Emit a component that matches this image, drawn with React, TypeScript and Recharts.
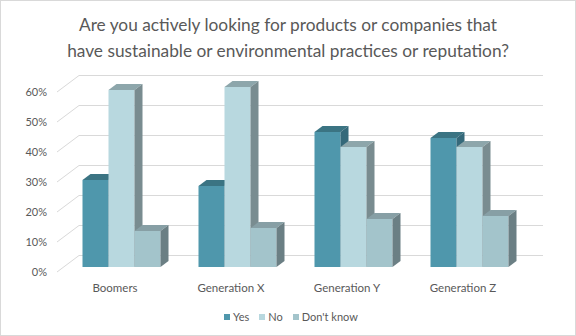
import React from 'react';
import { BarChart, Bar, XAxis, YAxis, CartesianGrid } from 'recharts';

const categories = ['Boomers', 'Generation X', 'Generation Y', 'Generation Z'];
const yesValues = [29, 27, 45, 43];
const noValues = [59, 60, 40, 40];
const dontKnowValues = [12, 13, 16, 17];
const yTicks = [0, 10, 20, 30, 40, 50, 60];
const seriesNames = ['Yes', 'No', "Don't know"];

const data = categories.map((c, i) => ({
  name: c,
  yes: yesValues[i],
  no: noValues[i],
  dk: dontKnowValues[i],
}));

const FONT = 'Lato, "Open Sans", sans-serif';
const TEXT = '#595959';
const DX = 8;
const DY = -6;
// offsets between the bar plane and the front / back planes
const FRONT_DX = -6.5;
const FRONT_DY = 5;
const BACK_DX = 15.5;
const BACK_DY = -11.5;

const colors = {
  yes: { front: '#4F97AC', top: '#3B7483', side: '#35697A' },
  no: { front: '#B8D8DF', top: '#8DA6AB', side: '#798C90' },
  dk: { front: '#A3C4CB', top: '#879FA5', side: '#6B7F84' },
};

const make3D = (c: { front: string; top: string; side: string }) => (props: any) => {
  const { x, y, width, height } = props;
  if (height == null || width == null) return <g />;
  return (
    <g>
      <rect x={x} y={y} width={width} height={height} fill={c.front} />
      <polygon
        points={`${x},${y} ${x + DX},${y + DY} ${x + width + DX},${y + DY} ${x + width},${y}`}
        fill={c.top}
      />
      <polygon
        points={`${x + width},${y} ${x + width + DX},${y + DY} ${x + width + DX},${y + height + DY} ${x + width},${y + height}`}
        fill={c.side}
      />
    </g>
  );
};

const gridLine = (props: any) => {
  const { x1, x2, y1, key } = props;
  return (
    <g key={key}>
      <line
        x1={x1 + FRONT_DX}
        y1={y1 + FRONT_DY}
        x2={x1 + BACK_DX}
        y2={y1 + BACK_DY}
        stroke="#D9D9D9"
        strokeWidth={1}
      />
      <line
        x1={x1 + BACK_DX}
        y1={y1 + BACK_DY}
        x2={x2 + BACK_DX}
        y2={y1 + BACK_DY}
        stroke="#D9D9D9"
        strokeWidth={1}
      />
    </g>
  );
};

const YTick = (props: any) => {
  const { y, payload } = props;
  return (
    <text x={47} y={y + FRONT_DY} dy="0.35em" textAnchor="end" fill={TEXT} fontSize={11} fontFamily={FONT}>
      {`${payload.value}%`}
    </text>
  );
};

const XTick = (props: any) => {
  const { x, payload } = props;
  return (
    <text x={x + FRONT_DX} y={288} dy="0.35em" textAnchor="middle" fill={TEXT} fontSize={11.5} fontFamily={FONT}>
      {payload.value}
    </text>
  );
};

const legendColors = [colors.yes.front, colors.no.front, colors.dk.front];

export default function App() {
  return (
    <div style={{ position: 'absolute', left: 0, top: 0, width: 576, height: 336, background: '#fff' }}>
      <div
        style={{
          position: 'absolute',
          left: 0,
          top: 12,
          width: 576,
          textAlign: 'center',
          fontFamily: FONT,
          fontSize: 17.3,
          lineHeight: '25.5px',
          color: TEXT,
        }}
      >
        Are you actively looking for products or companies that
        <br />
        have sustainable or environmental practices or reputation?
      </div>
      <div style={{ position: 'absolute', left: 0, top: 0 }}>
        <BarChart
          width={576}
          height={336}
          data={data}
          margin={{ top: 87, right: 48.5, bottom: 39, left: 3.5 }}
          barCategoryGap={19}
          barGap={0}
        >
          <CartesianGrid vertical={false} horizontal={gridLine} />
          <XAxis dataKey="name" axisLine={false} tickLine={false} height={30} tick={<XTick />} interval={0} />
          <YAxis
            domain={[0, 60]}
            ticks={yTicks}
            axisLine={false}
            tickLine={false}
            width={60}
            tick={<YTick />}
          />
          <Bar dataKey="yes" name={seriesNames[0]} barSize={26} isAnimationActive={false} shape={make3D(colors.yes)} />
          <Bar dataKey="no" name={seriesNames[1]} barSize={26} isAnimationActive={false} shape={make3D(colors.no)} />
          <Bar dataKey="dk" name={seriesNames[2]} barSize={26} isAnimationActive={false} shape={make3D(colors.dk)} />
        </BarChart>
      </div>
      <div
        style={{
          position: 'absolute',
          left: 0,
          top: 309,
          width: 576,
          display: 'flex',
          justifyContent: 'center',
          fontFamily: FONT,
          fontSize: 11,
          color: TEXT,
          lineHeight: '16px',
        }}
      >
        {seriesNames.map((n, i) => (
          <div key={n} style={{ display: 'flex', alignItems: 'center', marginLeft: i === 0 ? 6 : 10 }}>
            <span style={{ display: 'inline-block', width: 6, height: 6, background: legendColors[i], marginRight: 3 }} />
            <span>{n}</span>
          </div>
        ))}
      </div>
      <div
        style={{
          position: 'absolute',
          left: 0,
          top: 0,
          width: 576,
          height: 336,
          boxSizing: 'border-box',
          border: '1px solid #D9D9D9',
          pointerEvents: 'none',
        }}
      />
    </div>
  );
}
